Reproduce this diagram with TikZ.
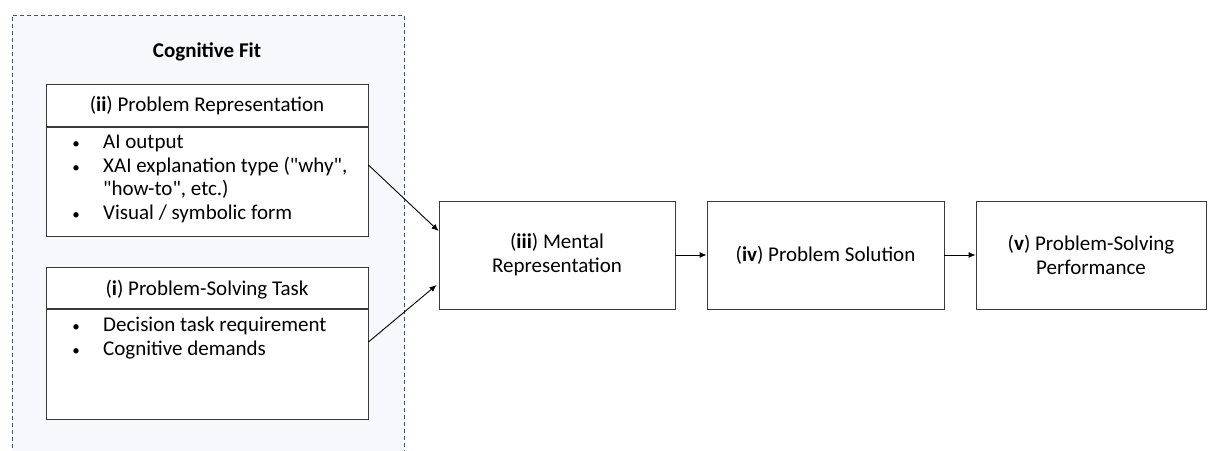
\documentclass[tikz,border=0pt]{standalone}
\usepackage{fontspec}
\setmainfont{Carlito}[Ligatures=TeXOff]
\usetikzlibrary{arrows.meta,calc}
\definecolor{linecol}{HTML}{3A3A3A}
\definecolor{fitfill}{HTML}{F6F8FB}
\definecolor{dashcol}{HTML}{44546A}
\tikzset{
  x=1pt,y=-1pt,
  box/.style={draw=linecol,line width=0.9pt,fill=white,inner sep=0pt},
  lbl/.style={font=\fontsize{21}{24}\selectfont,text=black,inner sep=0pt},
  item/.style={lbl,anchor=mid west},
  bul/.style={font=\fontsize{15}{18}\selectfont,inner sep=0pt,anchor=mid},
  arr/.style={-{Latex[length=7pt,width=6pt]},line width=0.9pt,draw=black},
}
\begin{document}
\begin{tikzpicture}
\useasboundingbox (0,0) rectangle (1208,450);
% cognitive fit region
\path[fill=fitfill] (12,15) rectangle (404,455);
\draw[dashcol,dash pattern=on 4pt off 3pt,line width=0.8pt] (12,455) -- (12,15) -- (404,15) -- (404,455);
\node[font=\fontsize{21}{24}\selectfont\bfseries,inner sep=0pt] (fit) at (207,52) {Cognitive Fit};
% (ii) problem representation
\node[box,minimum width=322pt,minimum height=152pt] (pr) at (207,160) {};
\draw[linecol,line width=1.4pt] (46,127) -- (368,127);
\node[lbl] (prh) at (207,106) {(\textbf{ii}) Problem Representation};
\node[bul] (b1) at (76,146) {•};
\node[item] (t1) at (103,146) {AI output};
\node[bul] (b2) at (76,170) {•};
\node[item] (t2) at (103,170) {XAI explanation type ("why",};
\node[item] (t2b) at (103,193) {"how-to", etc.)};
\node[bul] (b3) at (76,217) {•};
\node[item] (t3) at (103,217) {Visual / symbolic form};
% (i) problem-solving task
\node[box,minimum width=322pt,minimum height=152pt] (pt) at (207,343) {};
\draw[linecol,line width=1.4pt] (46,309) -- (368,309);
\node[lbl] (pth) at (207,290) {(\textbf{i}) Problem-Solving Task};
\node[bul] (b4) at (76,329) {•};
\node[item] (t4) at (103,329) {Decision task requirement};
\node[bul] (b5) at (76,353) {•};
\node[item] (t5) at (103,353) {Cognitive demands};
% right chain
\node[box,minimum width=236pt,minimum height=108pt,align=center,lbl] (mr) at (557,255) {(\textbf{iii}) Mental\\Representation};
\node[box,minimum width=237pt,minimum height=108pt,align=center,lbl] (ps) at (825.5,255) {(\textbf{iv}) Problem Solution};
\node[box,minimum width=230pt,minimum height=108pt,align=center,lbl] (pp) at (1091,255) {(\textbf{v}) Problem-Solving\\Performance};
% arrows
\draw[arr] ($(pr.east)+(0,5)$) -- ($(mr.west)+(0,-24)$);
\draw[arr] ($(pt.east)+(0,-1)$) -- ($(mr.west)+(-2,30)$);
\draw[arr] (mr) -- (ps);
\draw[arr] (ps) -- (pp);
\end{tikzpicture}
\end{document}
